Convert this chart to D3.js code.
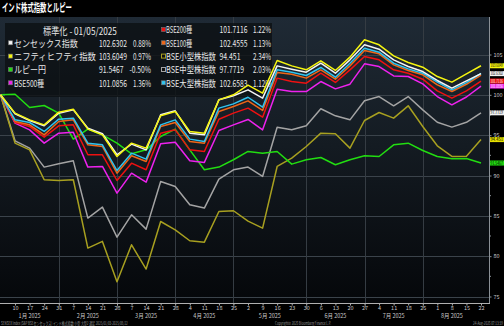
<!DOCTYPE html>
<html>
<head>
<meta charset="utf-8">
<script src="https://cdn.jsdelivr.net/npm/d3@7"></script>
<style>
html,body{margin:0;padding:0;background:#000;}
svg{display:block;}
text{font-family:"Noto Sans CJK JP","Noto Sans",sans-serif;}
</style>
</head>
<body>
<svg id="chart" width="504" height="326"></svg>
<script>
// Weekly closes (Fridays), normalised to 100 at the start of the year
const dates = ["2025-01-03","2025-01-10","2025-01-17","2025-01-24","2025-01-31",
  "2025-02-07","2025-02-14","2025-02-21","2025-02-28",
  "2025-03-07","2025-03-14","2025-03-21","2025-03-28",
  "2025-04-04","2025-04-11","2025-04-18","2025-04-25",
  "2025-05-02","2025-05-09","2025-05-16","2025-05-23","2025-05-30",
  "2025-06-06","2025-06-13","2025-06-20","2025-06-27",
  "2025-07-04","2025-07-11","2025-07-18","2025-07-25",
  "2025-08-01","2025-08-08","2025-08-15","2025-08-22"];

const sensex   = [100,97.65,96.82,96.16,97.73,98.14,95.87,95.17,92.57,93.89,93.18,97.52,98.02,95.25,95.04,99.38,99.88,100.62,99.59,103.59,103.18,102.81,103.92,102.68,104.34,106.20,105.66,104.34,103.51,102.89,101.78,100.83,101.74,102.6302];
const nifty    = [100,97.73,96.90,96.28,97.85,98.22,95.75,95.04,92.36,94.01,93.39,97.40,97.93,95.46,95.25,99.38,100.0,101.2,100.21,104.25,103.59,103.10,104.21,103.02,104.67,106.82,106.20,104.83,104.01,103.43,102.27,101.57,102.61,103.6049];
const rupee    = [100,100.08,98.43,98.68,97.73,94.51,95.75,95.04,94.01,92.69,93.18,94.84,95.75,93.18,90.71,91.04,91.95,92.98,92.77,92.98,91.41,91.95,92.23,91.33,91.95,92.44,92.36,93.80,94.01,93.10,92.36,92.07,92.10,91.5467];
const bse500   = [100,96.49,95.66,94.01,95.25,95.37,91.04,91.12,87.81,90.29,89.18,93.93,94.13,91.82,91.62,95.58,96.28,96.95,95.66,100.70,100.41,100.41,101.65,100.74,101.32,103.84,103.51,102.35,102.27,101.36,99.79,98.76,99.73,101.0856];
const bse200   = [100,96.57,96.07,94.75,96.16,96.28,92.57,92.57,89.38,91.53,90.71,95.25,95.66,93.18,92.98,96.98,97.73,98.35,97.23,102.07,101.65,101.45,102.68,101.53,103.10,104.75,104.34,103.10,102.68,101.94,100.50,99.59,100.49,101.7116];
const bse100   = [100,96.70,96.28,95.04,96.70,96.90,93.80,93.60,90.29,92.44,91.74,96.08,96.57,94.22,94.01,97.93,98.55,99.25,98.06,102.77,102.56,102.07,103.10,101.94,103.59,105.49,105.08,103.72,103.02,102.48,101.24,100.41,101.31,102.4555];
const smallCap = [100,94.01,93.18,89.47,89.38,89.47,81.00,81.83,76.83,81.41,78.40,84.30,83.27,81.91,81.74,85.54,85.63,84.35,83.48,91.12,92.15,93.60,95.25,95.17,93.39,96.82,97.81,97.11,98.64,96.08,93.68,92.36,92.40,94.451];
const midCap   = [100,94.30,93.39,91.04,91.45,91.82,84.72,86.08,82.36,85.13,83.35,89.26,88.64,86.37,85.96,89.55,90.71,91.04,89.88,95.99,95.66,96.16,98.27,97.40,96.90,99.26,99.79,98.64,99.79,98.14,96.60,96.00,96.60,97.7719];
const largeCap = [100,96.90,96.57,95.46,96.98,97.11,94.01,93.80,90.62,92.77,92.03,96.28,96.90,94.51,94.22,98.35,98.88,99.70,98.47,103.10,102.81,102.40,103.39,102.19,103.92,105.78,105.29,103.92,103.22,102.68,101.57,100.62,101.52,102.6583];

// Legend text: names, last values and change
const seriesNames = ["センセックス指数","ニフティヒフティ指数","ルピー円","BSE500種","BSE200種","BSE100種","BSE小型株指数","BSE中型株指数","BSE大型株指数"];
const lastValues  = ["102.6302","103.6049","91.5467","101.0856","101.7116","102.4555","94.451","97.7719","102.6583"];
const changes     = ["0.88%","0.97%","-0.50%","1.36%","1.22%","1.13%","2.34%","2.03%","1.12%"];

const yTicks = [75,80,85,90,95,100,105];
const monthLabels = ["1月 2025","2月 2025","3月 2025","4月 2025","5月 2025","6月 2025","7月 2025","8月 2025"];

const titleText  = "インド株式指数とルピー";
const legendHead = "標準化 - 01/05/2025";
const footLeft   = "SENSEX Index (S&P BSEセンセックス) インド株式指数  小型  大型2  週足 2025/01/03-2025/08/22";
const footMid    = "Copyright© 2025 Bloomberg Finance L.P.";
const footRight  = "24-Aug-2025 07:13:39";

// ---- styling ----
const allSeries = [sensex,nifty,rupee,bse500,bse200,bse100,smallCap,midCap,largeCap];
const colors = ["#f4f4f4","#f5f510","#22dd11","#ee22ee","#ee1111","#ee6618","#a8a020","#a4a4a4","#30c4f0"];
const endLabelFor = [true,true,true,true,true,false,true,true,false];
const endLabelText = ["#000","#000","#000","#fff","#fff","#000","#000","#000","#000"];
const endLabelBg = ["#f4f4f4","#f5f510","#22dd11","#ee22ee","#ee1111","#ee6618","#e6e000","#f0f0f0","#30c4f0"];
const drawOrder = [7,6,2,3,4,5,8,0,1];

const parse = d3.timeParse("%Y-%m-%d");
const days = dates.map(parse);

const W = 504, H = 326;
const plot = {left:0, right:489, top:17, bottom:303};

const svg = d3.select("#chart");

// condensed text: draw at natural size, then squeeze horizontally to a target width
function fitText(parent, txt, x0, y0, width, size, anchor, fill, extra){
  const g = parent.append("g");
  const t = g.append("text").attr("font-size",size).attr("fill",fill).text(txt);
  if (extra) extra(t);
  const w = t.node().getComputedTextLength();
  const s = width / w;
  const tx = anchor==="end" ? x0 - width : (anchor==="middle" ? x0 - width/2 : x0);
  g.attr("transform",`translate(${tx},${y0}) scale(${s},1)`);
  return t;
}

const defs = svg.append("defs");
const grad = defs.append("linearGradient").attr("id","bg").attr("x1",0).attr("x2",0).attr("y1",0).attr("y2",1);
grad.append("stop").attr("offset","0%").attr("stop-color","#1f2a35");
grad.append("stop").attr("offset","45%").attr("stop-color","#141b22");
grad.append("stop").attr("offset","100%").attr("stop-color","#05070a");
defs.append("clipPath").attr("id","clip").append("rect")
  .attr("x",plot.left).attr("y",plot.top).attr("width",plot.right-plot.left).attr("height",plot.bottom-plot.top);

svg.append("rect").attr("width",W).attr("height",H).attr("fill","#000");
svg.append("rect").attr("x",0).attr("y",plot.top).attr("width",plot.right).attr("height",plot.bottom-plot.top).attr("fill","url(#bg)");

const x = d3.scaleTime().domain([days[0], days[days.length-1]]).range([0.5, 481]);
const y = d3.scaleLinear().domain([75,105]).range([296.5,54.5]);

// horizontal grid
svg.append("g").selectAll("line").data(yTicks).join("line")
  .attr("x1",plot.left).attr("x2",plot.right)
  .attr("y1",d=>Math.round(y(d))+0.5).attr("y2",d=>Math.round(y(d))+0.5)
  .attr("stroke","#3b434b").attr("stroke-width",1);

// month separators at the last week of each month
const monthEnds = days.filter((d,i)=> i<days.length-1 && days[i+1].getMonth()!==d.getMonth());
svg.append("g").selectAll("line").data(monthEnds).join("line")
  .attr("x1",d=>Math.round(x(d))+0.5).attr("x2",d=>Math.round(x(d))+0.5)
  .attr("y1",plot.top).attr("y2",plot.bottom+6)
  .attr("stroke","#353c43").attr("stroke-width",1);

// legend panel
const lg = svg.append("g");
lg.append("rect").attr("x",5).attr("y",23).attr("width",267).attr("height",74)
  .attr("fill","#0c0f12").attr("opacity",0.78);
fitText(lg, legendHead, 43, 34.5, 74, 10, "start", "#e8e8e8");

const rowY = [43.3,56.6,70,83.3];
const col2Y = [30,43.3,56.6,70,83.3];
const nameWidths = [64,82,32,30,26,26,50,50,50];
seriesNames.forEach((nm,i)=>{
  const c1 = i<4;
  const cy = c1 ? rowY[i] : col2Y[i-4];
  const sx = c1 ? 8 : 161;
  const hollow = (i===6||i===7);
  lg.append("rect").attr("x",sx+0.5).attr("y",cy-2.5).attr("width",4).attr("height",4)
    .attr("fill",hollow?"#111":colors[i]).attr("stroke",hollow?colors[i]:"#777").attr("stroke-width",hollow?1:0.6);
  fitText(lg, nm, c1?14:166, cy+3.4, nameWidths[i], 9.5, "start", "#e8e8e8");
  fitText(lg, lastValues[i], c1?99:219.5, cy+3.4, lastValues[i].length*3.5, 9.5, "start", "#e8e8e8");
  fitText(lg, changes[i], c1?151:271, cy+3.4, changes[i].length*3.6, 9.5, "end", "#e8e8e8");
});

// series lines
const line = d3.line().x((d,i)=>x(days[i])).y(d=>y(d));
const lines = svg.append("g").attr("clip-path","url(#clip)");
drawOrder.forEach(k=>{
  lines.append("path").datum(allSeries[k]).attr("d",line)
    .attr("fill","none").attr("stroke",colors[k]).attr("stroke-width",1.5).attr("stroke-linejoin","round");
});

// title bar
svg.append("rect").attr("x",0).attr("y",0).attr("width",W).attr("height",plot.top).attr("fill","#000");
fitText(svg, titleText, 2, 12, 70, 11, "start", "#fff", t=>t.attr("font-weight","bold"));

// right axis
svg.append("line").attr("x1",plot.right+0.5).attr("x2",plot.right+0.5).attr("y1",plot.top).attr("y2",plot.bottom)
  .attr("stroke","#8a9096").attr("stroke-width",1);
const yAxis = d3.axisRight(y).tickValues(yTicks).tickSize(2).tickPadding(2);
const ya = svg.append("g").attr("transform",`translate(${plot.right+0.5},0)`).call(yAxis);
ya.select(".domain").remove();
ya.selectAll("line").attr("stroke","#8a9096");
ya.selectAll("text").attr("fill","#c8c8c8").attr("font-size",5.5).attr("font-family","Liberation Sans, sans-serif");
const minor = d3.range(75,106,2.5).filter(v=>!yTicks.includes(v));
svg.append("g").selectAll("line").data(minor).join("line")
  .attr("x1",plot.right).attr("x2",plot.right+2).attr("y1",d=>y(d)).attr("y2",d=>y(d)).attr("stroke","#8a9096");

// end value tags
allSeries.forEach((s,k)=>{
  if(!endLabelFor[k]) return;
  const v = s[s.length-1];
  const cy = y(v);
  svg.append("rect").attr("x",plot.right+1).attr("y",cy-2.5).attr("width",14).attr("height",5).attr("fill",endLabelBg[k]);
  fitText(svg, lastValues[k], plot.right+1.5, cy+1.6, 12.5, 4.5, "start", endLabelText[k],
    t=>t.attr("font-family","Liberation Sans, sans-serif"));
});

// bottom axis
svg.append("line").attr("x1",0).attr("x2",plot.right+1).attr("y1",plot.bottom+0.5).attr("y2",plot.bottom+0.5)
  .attr("stroke","#b0b0b0").attr("stroke-width",1);
const tickDays = days.slice(1);
const xa = svg.append("g").attr("transform",`translate(0,${plot.bottom+0.5})`)
  .call(d3.axisBottom(x).tickValues(tickDays).tickSize(2).tickPadding(1).tickFormat(d3.timeFormat("%-d")));
xa.select(".domain").remove();
xa.selectAll("line").attr("stroke","#b0b0b0");
xa.selectAll("text").attr("fill","#c8c8c8").attr("font-size",5.5).attr("font-family","Liberation Sans, sans-serif");

// month labels centred between separators
const bounds = [x(days[0])].concat(monthEnds.map(x)).concat([x(days[days.length-1])]);
svg.append("g").selectAll("text").data(monthLabels).join("text")
  .attr("x",(d,i)=>(bounds[i]+bounds[i+1])/2).attr("y",317.5).attr("text-anchor","middle")
  .attr("fill","#c8c8c8").attr("font-size",5.5).text(d=>d);

// footer
fitText(svg, footLeft, 1, 324.5, 127, 4.6, "start", "#9a9a9a");
fitText(svg, footMid, 275, 324.5, 56, 4.6, "start", "#9a9a9a");
fitText(svg, footRight, 503, 324.5, 30, 4.6, "end", "#9a9a9a");
</script>
</body>
</html>
